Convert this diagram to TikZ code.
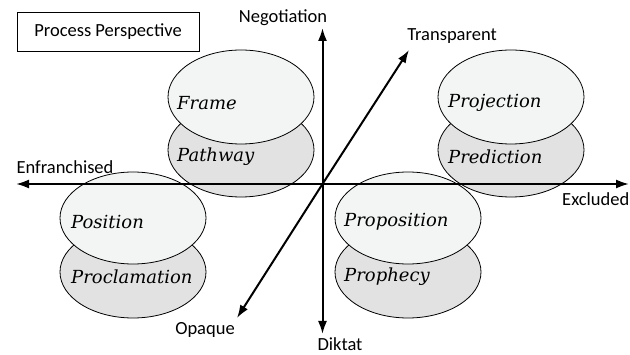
\documentclass[tikz,border=0pt]{standalone}
\usepackage{fontspec}
\setsansfont{Carlito}
\newfontfamily\calfnt{DejaVu Serif}
\usetikzlibrary{arrows.meta}
\definecolor{lightfill}{HTML}{F3F5F5}
\definecolor{grayfill}{HTML}{E2E2E2}
\tikzset{
  topell/.style={draw=black, line width=0.8pt, fill=lightfill},
  botell/.style={draw=black, line width=0.8pt, fill=grayfill},
  scr/.style={font=\calfnt\fontsize{18}{21}\selectfont\itshape, anchor=west, inner sep=0pt},
  axis/.style={line width=2pt, -{Latex[length=13pt,width=9pt]}},
  lbl/.style={font=\sffamily\fontsize{18.5}{21}\selectfont, inner sep=0pt}
}
\begin{document}
\begin{tikzpicture}[x=1pt,y=-1pt]
\useasboundingbox[fill=white] (0,0) rectangle (630,355);
% title box
\node[draw=black, line width=0.8pt, minimum width=182pt, minimum height=39pt, font=\sffamily\fontsize{18.5}{21}\selectfont] (title) at (108,31.5) {Process Perspective};
% ellipses: bottom (gray) first
\draw[botell] (241,150) ellipse [x radius=73, y radius=47];
\draw[topell] (241,97) ellipse [x radius=73, y radius=47];
\draw[botell] (511,150) ellipse [x radius=73, y radius=47];
\draw[topell] (511,97) ellipse [x radius=73, y radius=47];
\draw[botell] (133,272) ellipse [x radius=73, y radius=46];
\draw[topell] (133,218) ellipse [x radius=73, y radius=46];
\draw[botell] (408,272) ellipse [x radius=73, y radius=46];
\draw[topell] (408,218) ellipse [x radius=73, y radius=46];
% script labels
\node[scr] (frame) at (177,103) {Frame};
\node[scr] (pathway) at (177,157) {Pathway};
\node[scr] (projection) at (448,103) {Projection};
\node[scr] (prediction) at (448,157) {Prediction};
\node[scr] (position) at (71,222) {Position};
\node[scr] (proclamation) at (71,277) {Proclamation};
\node[scr] (proposition) at (344,222) {Proposition};
\node[scr] (prophecy) at (344,277) {Prophecy};
% axes
\coordinate (o) at (322.5,184);
\coordinate (top) at (322.5,28);
\coordinate (bot) at (322.5,334);
\coordinate (left) at (16,184);
\coordinate (right) at (629,184);
\coordinate (tr) at (409,50);
\coordinate (bl) at (237,318);
\draw[axis] (o) -- (top);
\draw[axis] (o) -- (bot);
\draw[axis] (o) -- (left);
\draw[axis] (o) -- (right);
\draw[axis] (o) -- (tr);
\draw[axis] (o) -- (bl);
% axis labels
\node[lbl] (neg) at (283,18) {Negotiation};
\node[lbl] (trans) at (452,36) {Transparent};
\node[lbl] (enf) at (65,167) {Enfranchised};
\node[lbl, anchor=east] (exc) at (629.5,199) {Excluded};
\node[lbl] (opq) at (205,330) {Opaque};
\node[lbl] (dik) at (340,344) {Diktat};
\end{tikzpicture}
\end{document}
